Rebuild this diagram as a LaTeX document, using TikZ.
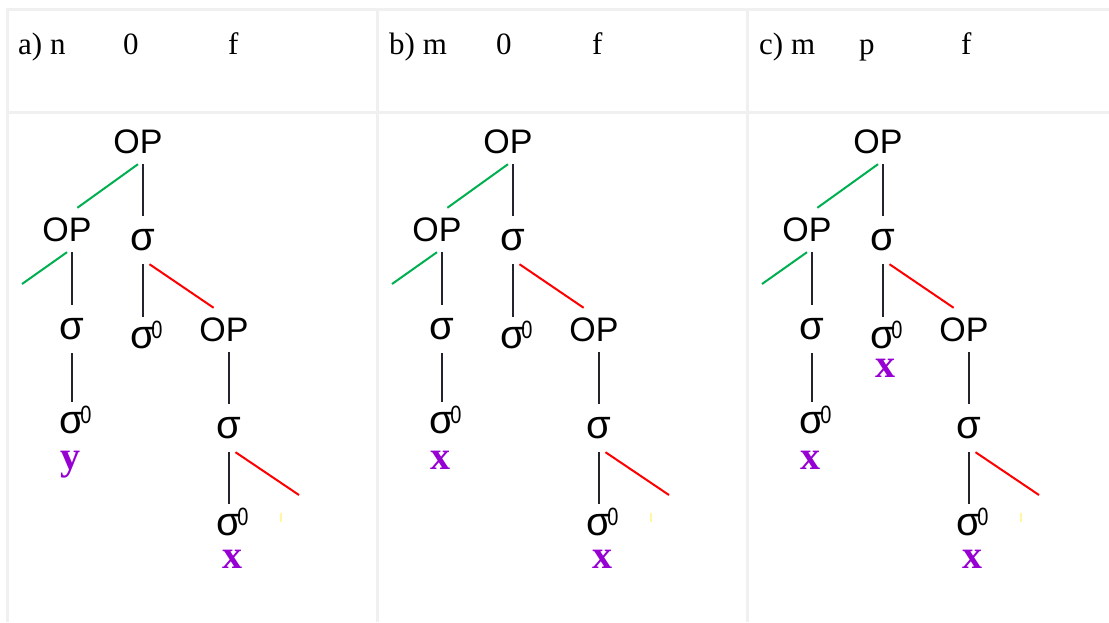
\documentclass[tikz,border=0pt]{standalone}
\usepackage{fontspec}
\setmainfont{Liberation Serif}
\newfontfamily\arbre{Liberation Sans}
\definecolor{grille}{RGB}{240,240,240}
\definecolor{vert}{RGB}{0,176,80}
\definecolor{rouge}{RGB}{255,0,0}
\definecolor{violet}{RGB}{150,0,210}
\definecolor{trait}{RGB}{35,35,45}
\definecolor{jaune}{RGB}{255,248,160}
% sigma avec un petit 0 en exposant (sans largeur)
\newcommand{\sigzero}{σ\smash{\rlap{\kern-4pt\raisebox{10pt}{\scalebox{0.8}[1]{\fontsize{25}{25}\selectfont 0}}}}}

\begin{document}
\begin{tikzpicture}[x=1pt,y=-1pt,
	op/.style={font={\arbre\fontsize{34}{34}\selectfont}, inner sep=0pt, minimum height=44pt, minimum width=48pt},
	sig/.style={font={\arbre\fontsize{40}{40}\selectfont}, inner sep=0pt, minimum height=48pt, minimum width=24pt},
	sigz/.style={font={\arbre\fontsize{40}{40}\selectfont}, inner sep=0pt, anchor=base, text height=31pt, text depth=0pt},
	var/.style={font={\fontsize{40}{40}\selectfont\bfseries}, text=violet, inner sep=0pt, anchor=base},
	tete/.style={font={\fontsize{31}{31}\selectfont}, inner sep=0pt, anchor=base west},
	tige/.style={trait, line width=2.7pt},
	gauche/.style={vert, line width=2pt},
	droite/.style={rouge, line width=2pt}]
	\useasboundingbox (0,0) rectangle (1109,622);
	
	% Tableau
	\foreach \x in {7.5,377.5,747.5}
		\draw[grille, line width=3pt] (\x,7.5) -- (\x,622);
	\foreach \y in {9,112}
		\draw[grille, line width=3pt] (6,\y) -- (1109,\y);
	
	% En-tetes
	\node[tete] (a-t1) at (18,54) {a) n};
	\node[tete] (a-t2) at (123,54) {0};
	\node[tete] (a-t3) at (228,54) {f};
	\node[tete] (b-t1) at (389,54) {b) m};
	\node[tete] (b-t2) at (496,54) {0};
	\node[tete] (b-t3) at (592,54) {f};
	\node[tete] (c-t1) at (759,54) {c) m};
	\node[tete] (c-t2) at (859,54) {p};
	\node[tete] (c-t3) at (961,54) {f};
	
	% Arbres
	\foreach \p/\dx/\lab in {a/0/y, b/370/x, c/740/x} {
		\begin{scope}[xshift=\dx]
			\node[op] (\p-root) at (138,142) {OP};
			\node[op] (\p-opb) at (67,230) {OP};
			\node[sig] (\p-s1) at (143,240) {σ};
			\node[sig] (\p-s2) at (72,329) {σ};
			\node[sigz] (\p-z1) at (143,348) {\sigzero};
			\node[sigz] (\p-z2) at (72,433) {\sigzero};
			\node[op] (\p-opc) at (224,330) {OP};
			\node[sig] (\p-s3) at (229,428) {σ};
			\node[sigz] (\p-z3) at (229,535) {\sigzero};
			\coordinate (\p-g) at (22,284);
			\coordinate (\p-r) at (299,495);
			% etiquettes
			\node[var] (\p-xg) at (70,469) {\lab};
			\node[var] (\p-xd) at (232,568) {x};
			% branches
			\draw[gauche] (\p-root.south) -- (\p-opb.65);
			\draw[tige] (\p-s1.north |- \p-root.south) -- (\p-s1.north);
			\draw[gauche] (\p-opb.south) -- (\p-g);
			\draw[tige] (\p-s2.north |- \p-opb.south) -- (\p-s2.north);
			\draw[tige] (\p-s1.south) -- (\p-z1.north);
			\draw[droite] (\p-s1.-75) -- (\p-opc.115);
			\draw[tige] (\p-s2.south) -- (\p-z2.north);
			\draw[tige] (\p-s3.north |- \p-opc.south) -- (\p-s3.north);
			\draw[tige] (\p-s3.south) -- (\p-z3.north);
			\draw[droite] (\p-s3.-75) -- (\p-r);
			\draw[jaune, line width=1.2pt] (281,513) -- (281,522);
		\end{scope}
	}
	\node[var] (c-xm) at (885,377) {x};
\end{tikzpicture}
\end{document}
